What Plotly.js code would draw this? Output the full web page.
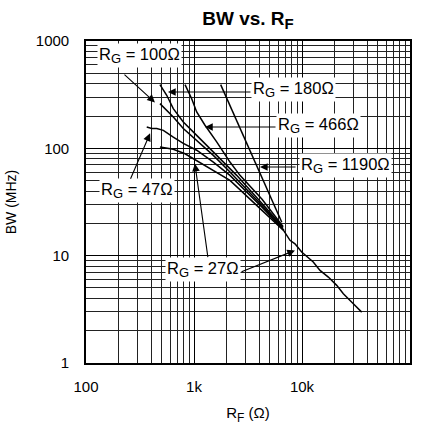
<!DOCTYPE html>
<html>
<head>
<meta charset="utf-8">
<script src="https://cdn.plot.ly/plotly-3.0.1.min.js"></script>
<style>html,body{margin:0;padding:0;background:#fff;}#chart{width:424px;height:431px;}</style>
</head>
<body>
<div id="chart"></div>
<script>
// R_F (ohm) and BW (MHz), one pair of arrays per R_G
const rf_1190 = [1766, 3304, 6500];
const bw_1190 = [392, 95.3, 20.5];

const rf_466 = [826, 952, 1059, 1264, 1622, 2153, 2666, 4266, 6670];
const bw_466 = [392, 290, 218, 164, 115, 74.5, 56, 33.5, 18.7];

const rf_180 = [484, 559, 643, 796, 1059, 1406, 1867, 2484, 4266, 6670];
const bw_180 = [392, 312, 234, 176, 132, 99.3, 74.5, 56, 30.7, 18.4];

const rf_100 = [484, 559, 643, 796, 1059, 1510, 2153, 4266, 6670];
const bw_100 = [261, 226, 196, 153, 119, 86, 60.1, 29.4, 17.9];

const rf_47 = [365, 406, 452, 520, 643, 796, 1059, 1510, 2153, 4266, 6809];
const bw_47 = [158, 153, 153, 147, 127, 111, 96, 74.5, 56, 28.2, 17.2];

const rf_27 = [484, 643, 826, 1059, 1510, 2153, 4266, 6750, 7745, 8610, 9930, 12710, 14680, 17530, 20960, 24140, 29870, 35700];
const bw_27 = [103, 98, 89, 77, 62.3, 50.3, 26.4, 17.2, 13.9, 12.9, 10.8, 8.72, 7.29, 6.32, 5.29, 4.42, 3.57, 2.98];

const xTickVals = [100, 1000, 10000, 100000];
const xTickText = ['100', '1k', '10k', '100k'];
const yTickVals = [1, 10, 100, 1000];
const yTickText = ['1', '10', '100', '1000'];

const series = [
  {x: rf_1190, y: bw_1190},
  {x: rf_466, y: bw_466},
  {x: rf_180, y: bw_180},
  {x: rf_100, y: bw_100},
  {x: rf_47, y: bw_47},
  {x: rf_27, y: bw_27}
];

const traces = series.map(s => ({
  x: s.x, y: s.y, type: 'scatter', mode: 'lines',
  line: {color: '#000', width: 1.5}, hoverinfo: 'skip', showlegend: false
}));

const L = Math.log10;
const FAM = 'Liberation Sans, Arial, sans-serif';
const FONT = {family: FAM, size: 15, color: '#000'};
const LABFONT = {family: FAM, size: 16.5, color: '#000'};
const sub = (s, px) => '<sub><span style="font-size:' + px + 'px">' + s + '</span></sub>';

// label texts with their positions (R_F, BW) and arrow tips
const labels = [
  {t: 'R' + sub('G', 13) + ' = 100Ω', x: 310, y: 736},
  {t: 'R' + sub('G', 13) + ' = 180Ω', x: 8430, y: 357},
  {t: 'R' + sub('G', 13) + ' = 466Ω', x: 14350, y: 162},
  {t: 'R' + sub('G', 13) + ' = 1190Ω', x: 25500, y: 69.5},
  {t: 'R' + sub('G', 13) + ' = 47Ω', x: 296, y: 40.6},
  {t: 'R' + sub('G', 13) + ' = 27Ω', x: 1210, y: 7.4}
];
const arrows = [
  {fx: 220, fy: 500, tx: 435, ty: 268},
  {fx: 3440, fy: 335, tx: 574, ty: 335},
  {fx: 5870, fy: 158, tx: 1265, ty: 158},
  {fx: 9000, fy: 67, tx: 4080, ty: 67},
  {fx: 255, fy: 50.4, tx: 392, ty: 138},
  {fx: 1350, fy: 9.4, tx: 1020, ty: 72},
  {fx: 2670, fy: 7.0, tx: 8610, ty: 11.2}
];

const annotations = [];
labels.forEach(l => annotations.push({
  text: l.t, x: L(l.x), y: L(l.y), xref: 'x', yref: 'y', showarrow: false,
  bgcolor: '#fff', borderpad: 1, font: LABFONT, xanchor: 'center', yanchor: 'middle'
}));
arrows.forEach(a => annotations.push({
  text: '', x: L(a.tx), y: L(a.ty), ax: L(a.fx), ay: L(a.fy), axref: 'x', ayref: 'y',
  xref: 'x', yref: 'y', showarrow: true, arrowhead: 2, arrowsize: 1.4, arrowwidth: 1.1,
  arrowcolor: '#000', standoff: 0, startstandoff: 0
}));

const axisCommon = {
  type: 'log', showline: true, mirror: true, linecolor: '#000', linewidth: 1.8,
  showgrid: true, gridcolor: '#000', gridwidth: 1, zeroline: false,
  ticks: '', tickmode: 'array', tickfont: FONT, fixedrange: true,
  minor: {dtick: 'D1', showgrid: true, gridcolor: '#222', gridwidth: 1, ticks: ''}
};

const layout = {
  width: 424, height: 431,
  margin: {l: 86, r: 14, t: 41, b: 68},
  paper_bgcolor: '#fff', plot_bgcolor: '#fff',
  font: FONT,
  title: {text: '<b>BW vs. R' + sub('F', 15) + '</b>', font: {family: FAM, size: 19, color: '#000'},
          x: 0.5, xref: 'paper', y: 0.958, yref: 'container', yanchor: 'middle'},
  xaxis: Object.assign({}, axisCommon, {
    range: [2, 5], tickvals: xTickVals, ticktext: xTickText, ticklabelstandoff: 9,
    title: {text: 'R' + sub('F', 12) + ' (Ω)', font: {family: FAM, size: 15, color: '#000'}, standoff: 14}
  }),
  yaxis: Object.assign({}, axisCommon, {
    range: [0, 3], tickvals: yTickVals, ticktext: yTickText, ticklabelstandoff: 12,
    title: {text: 'BW (MHz)', font: {family: FAM, size: 14, color: '#000'}, standoff: 16}
  }),
  annotations: annotations,
  showlegend: false
};

Plotly.newPlot('chart', traces, layout, {staticPlot: true, displayModeBar: false});
</script>
</body>
</html>
